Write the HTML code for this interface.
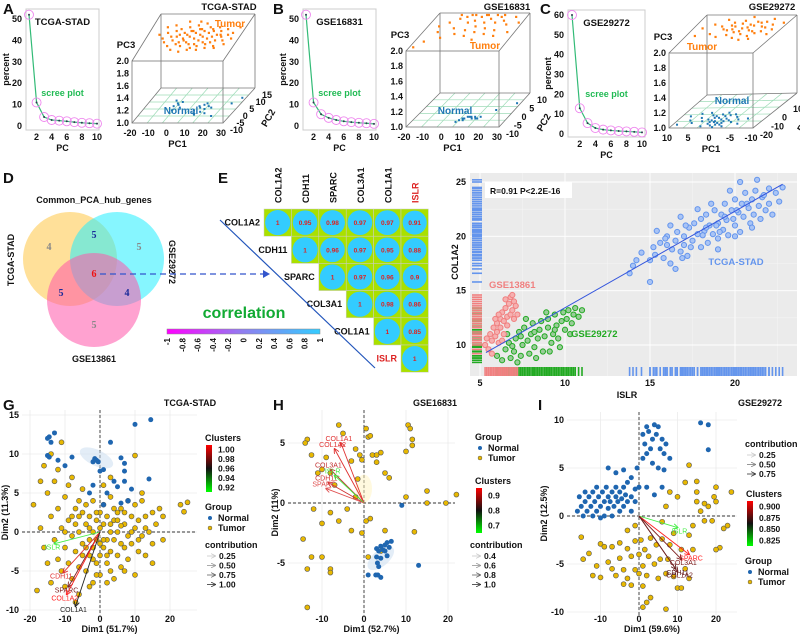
<!DOCTYPE html>
<html><head><meta charset="utf-8"><style>
html,body{margin:0;padding:0;background:#fff}
svg{display:block;font-family:"Liberation Sans",Arial,sans-serif;font-weight:bold}
</style></head><body>
<svg id="fig" width="800" height="638" viewBox="0 0 800 638" xmlns="http://www.w3.org/2000/svg">
<defs>
<linearGradient id="corrGrad" x1="0" x2="1" y1="0" y2="0"><stop offset="0" stop-color="#ff00ff"/><stop offset="0.5" stop-color="#8f7ff0"/><stop offset="1" stop-color="#33ccff"/></linearGradient>
<linearGradient id="clGrad" x1="0" x2="0" y1="0" y2="1"><stop offset="0" stop-color="#ff0000"/><stop offset="0.5" stop-color="#111"/><stop offset="1" stop-color="#00ff00"/></linearGradient>
<marker id="ah" markerWidth="6" markerHeight="6" refX="5" refY="3" orient="auto"><path d="M0,0 L6,3 L0,6" fill="none" stroke="context-stroke" stroke-width="1"/></marker>
</defs>
</svg>
<script>
// ---------------- DATA ----------------
const screeA=[52,11,4.2,2.8,2.5,2.2,1.8,1.5,1.3,1.1];
const screeB=[52,11,5.5,3.8,2.8,2.2,1.8,1.5,1.3,1.0];
const screeC=[60,13,5.5,3,2.2,1.8,1.5,1.3,1.1,0.8];
const pcaTumorA="-12,8 -10,5 -8,9 -7,3 -6,6 -5,1 -4,7 -3,4 -2,-1 -1,5 0,2 0,8 1,-2 1,4 2,6 3,0 3,3 4,9 5,-1 5,5 6,2 7,7 7,-3 8,4 9,1 9,6 10,-2 10,3 11,8 12,0 12,5 13,2 14,-1 14,6 15,3 16,0 16,8 17,4 18,1 18,6 19,-2 20,3 21,7 22,1 23,4 24,-1 25,5 26,2 -9,0 -6,-2 -3,-4 2,-5 6,-4 11,-4 15,-3 20,-3 -14,4 27,8 4,11 -2,11 8,10 -11,2 -4,3 1,1 6,7 13,7 19,4 -1,0 3,6 8,-1";
const pcaNormalA="-5,2 -4,4 -3,3 -2,5 -6,6 -1,1 8,-1 9,2 10,1 11,3 12,-2 13,0 14,2 10,-4 15,-3 9,-3 12,4 16,1 25,4 28,8 20,-5 -4,-1";
const pcaTumorB="-15,-5 -12,0 -10,5 -8,-3 -6,7 -5,2 -3,8 -2,-1 0,5 1,9 2,1 3,6 4,-2 5,8 6,3 7,9 8,0 9,5 10,-4 11,7 12,2 13,9 14,-1 15,5 16,8 18,1 19,6 20,-2 22,4 24,8 26,0 28,5 -18,-8 -14,3 -7,9 -1,9 8,9 17,9";
const pcaNormalB="5,-6 6,-5 7,-5 8,-4 9,-4 10,-4 11,-5 12,-4 13,-5 14,-5 7,-6 4,-7 15,-4 20,0 28,4";
const pcaTumorC="6,10 4,15 3,5 2,12 1,8 0,2 0,14 -1,6 -2,10 -2,0 -3,4 -4,12 -4,-2 -5,8 -6,3 -6,16 -7,10 -8,5 -1,-4 1,-1 -3,-6 -5,-5 2,4 -1,18 3,-3 5,0 8,-2 -9,12 -2,7 -3,9 0,11 1,5 -4,3 -6,7 -5,13 4,8 8,6 -8,0 -1,3 -3,13 2,9 -5,1";
const pcaNormalC="3,-10 2,-8 1,-12 0,-6 -1,-9 -2,-11 -3,-7 0,-14 1,-4 2,-15 -1,-16 3,-5 4,-12 5,-8 6,-14 -2,-4 -4,-10 0,-10 1,-8 -1,-12 2,-11 0,-2 4,-2 6,-3 8,-6 -3,-13 -1,-5 2,-6 -5,-15 1,-17 3,-18 -2,-18 0,-19 -6,-9 7,-11 9,-16 1,-13 -1,-14 2,-13 0,-16";
const vennSets=["TCGA-STAD","GSE29272","GSE13861"];
const vennCounts=[4,5,5,6,5,4,5]; // A only, A&B, B only, all, A&C, B&C, C only
const genes=["COL1A2","CDH11","SPARC","COL3A1","COL1A1","ISLR"];
const corrRows=[[1,0.95,0.98,0.97,0.97,0.91],[1,0.96,0.97,0.95,0.88],[1,0.97,0.96,0.9],[1,0.98,0.86],[1,0.85],[1]];
const corrTicks=["-1","-0.8","-0.6","-0.4","-0.2","0","0.2","0.4","0.6","0.8","1"];
const fBlue="14,17.3 14.2,17.8 14.5,18.5 15,17.8 15.2,19 15.3,18.3 15.4,20.5 15.6,19.4 15.8,18 16,19.2 16,20 16.2,17.5 16.3,18.8 16.5,19.6 16.6,20.4 16.8,18.6 16.8,21.8 17,19.2 17,20 17.2,18.2 17.3,20.8 17.5,19.6 17.6,21.2 17.8,20.2 18,19 18,21.6 18.2,20.5 18.3,22 18.4,19.4 18.5,21 18.7,20.2 18.8,22.4 19,21.2 19,19.8 19.2,22 19.3,20.6 19.4,23 19.5,21.5 19.6,20.1 19.8,22.4 20,21 20,23.4 20.2,22.2 20.3,20.4 20.4,23 20.5,21.8 20.6,24 20.8,22.6 20.9,21.2 21,23.4 21.1,22 21.2,24.2 21.4,22.8 21.5,21.6 21.6,23.6 21.8,22.4 22,24.4 22,23 22.2,22 22.4,24 22.6,23.2 22.8,24.5 15,15.8 16.5,17 19,18.8 20,20 21,20.8 17.8,22.5 18.6,23 19.7,24.2 20.3,25 21.3,25.2 16.9,18 17.4,19 18.1,20.1 18.9,21 19.4,21.8 20.1,22.4 13.8,16.6 17.1,21 18.3,20.8 19.1,20.4 19.9,21.6 20.7,23 21.7,23.8 16.2,21 15.9,19.8";
const fRed="5.3,10 5.4,10.6 5.5,9.6 5.6,11 5.7,10.4 5.8,11.6 5.9,10.8 6,12 6,11.2 6.1,10.2 6.2,12.4 6.2,11.6 6.3,13 6.4,12.2 6.4,11 6.5,13.4 6.6,12.6 6.6,11.8 6.7,13.8 6.8,12.8 6.8,14.4 6.9,13.2 7,12.4 7,14 7.1,13.6 7.2,12.8 5.7,9.2 6.3,10.4 6.5,14.2 6.9,14.6 6.1,12.8 5.9,12.4";
const fGreen="6,9 6.3,8.6 6.5,9.6 6.7,10.2 6.8,8.8 7,9.4 7.1,10.6 7.3,11.2 7.4,9 7.5,10 7.6,11.6 7.8,10.4 7.9,9.2 8,11 8.1,12 8.2,9.8 8.4,10.6 8.5,11.4 8.6,12.2 8.7,9.4 8.8,10.8 9,11.6 9,12.4 9.2,10.2 9.3,11 9.4,12.8 9.5,11.8 9.6,10.6 9.8,12.2 9.9,13 10,11.4 10.1,12.4 10.2,13.2 10.4,12 10.5,12.8 10.6,13.4 10.8,12.6 11,13.2 7.2,8.4 8.3,8.8 9.1,9.4 6.6,11 7.7,12.4 8.9,13 10.3,11 9.7,9.8 7.4,10.8 8.2,11.2 9.4,11.4 6.9,9.9";
const gTumor="-19,3.5 -17,0.5 -16,-2 -15,5 -15,-4 -14,2 -14,-6.5 -13,6.5 -13,-1 -12,3 -12,-3.5 -11,0.5 -11,-5 -10,4.5 -10,-2 -9,1.5 -9,-4 -9,6 -8,-0.5 -8,-6 -7,3 -7,-2.5 -7,1 -6,-4.5 -6,4 -6,0 -5,-1.5 -5,2.5 -5,-3 -4,1 -4,-5 -4,3.5 -3,-1 -3,-3 -3,2 -2,0 -2,-2 -2,4 -1,-4 -1,1.5 -1,-1 0,-3 0,2.5 0,0.5 0,-5.5 1,-2 1,1 1,3.5 2,-1 2,-4 2,2 3,0 3,-2.5 3,4.5 4,1.5 4,-1 4,-6 5,2.5 5,-3 5,0 6,-1.5 6,3 6,-4.5 7,1 7,-2 8,4 8,-0.5 8,-3.5 9,2 9,-1.5 10,0.5 10,-5.5 10,3.5 11,-2.5 11,1.5 12,-0.5 12,4 13,2 13,-3 14,0 15,2.5 15,-1.5 16,1 17,3 18,-1 18,2 23,3.5 25,3.8 24,2.6 -18,-7.5 -10,-7 -6,-8 -3,-7 2,-6.5 7,-5 -16,8.5 -14,10 -12,8 -11,11.5 -17,6.5 -8,7 10,9.8 12,5 15,-4 -2,-6.5 -7,-9 1,6 3,7 -5,5.5 -3,0.5 -1,2.5 1,-1 3,1 5,1.5 -4,-2 2,-3 6,0.8 -6,2 4,3 -2,-3.5 0,-1.5 7,2.5 9,0 -8,2 -10,0 11,-1 13,0.5 -1,-5.5 3,-5";
const gNormal="-15,12 -14.5,12.2 -14,11.5 -13,12.7 -15,9.8 -14.5,9.6 -12,9.2 -10,8.5 -8,9.6 -2,9 -1.5,9.4 -1,9.2 -0.5,9 1,8 0,7.8 6,9.5 7,8.8 7,7.8 10,13.8 14.5,14.4 3,11.5 -2,6 2,5 4,6.5 7,6.5 9,5.5 8,4 -3,5 1,3.5 14,6.8 6,3.7 5,5.8";
const gArrows=[["ISLR",-13,-1.5,"#44ee44"],["CDH11",-10.5,-5.2,"#e03030"],["SPARC",-9,-7,"#802020"],["COL1A2",-9.5,-8,"#ff2020"],["COL1A1",-7,-9.5,"#222"]];
const hTumor="-13.5,5.3 -14,5 -12.5,4 -11,2.5 -10,2.8 -9,3.8 -8,2.5 -7,1.5 -6,6.5 -5,5.8 -3,3.5 -2,4.5 -1,4 -0.5,3.6 0.5,6.2 1,5.5 1.5,5.6 2,4 3,4 3,3.4 4,4.2 5,2.5 6,2.1 -12,-0.5 -10,-1.7 -8,-0.8 -6,-1.5 -3,-2.3 -4,-0.5 0.5,-1.5 1.5,-1.3 1,-4.5 4,-4 5,-2.3 -14.5,-3 -12.5,-4.5 -13.5,-5.5 -10,-4.5 -8,-5.5 -8,-5.8 -13.5,-8.7 10.5,6.5 11,6.2 11.5,5.3 11.5,4.8 10,4.3 10,0.5 12,-2.4 15,1 15,0 19.5,0 22,0.7 -0.5,-2.5 -1.5,2 -2,0.5";
const hNormal="3,-3.8 3.5,-4 4,-3.6 4.5,-3.9 5,-3.5 5.5,-3.3 6,-3.7 3,-4.5 3.2,-5 3.5,-5.3 4,-4.6 2.8,-6 3.3,-6 1,-6 4,-6.2 5.5,-4.4 6.5,-3.2 5,-4 9,-0.2 13,-5.2";
const hArrows=[["COL1A1",-5.5,5,"#e03030"],["COL1A2",-7,4.5,"#e03030"],["COL3A1",-8,2.8,"#c03030"],["CDH11",-8.5,1.7,"#d03030"],["ISLR",-7,2.3,"#44ee44"],["SPARC",-9,1.2,"#e05050"]];
const iNormal="-16,0.5 -15.5,2 -15,1 -14.5,0 -14,2.5 -14,1.5 -13.5,0.5 -13,2 -12.5,1 -12,0 -12,2.5 -11.5,1.5 -11,3 -11,0.5 -10.5,2 -10,1 -10,-0.2 -9.5,2.5 -9,1.5 -9,0 -8.5,3 -8,2 -8,0.8 -7.5,1.5 -7,2.5 -7,0 -6.5,1 -6,2 -6,3 -5.5,1.5 -5,2.5 -5,0.5 -4.5,1.8 -4,3 -4,1 -3.5,2.2 -3,1.5 -3,3.5 -2,2 -2,0.5 -1,1.5 -8,5 -6,4.5 -4,4.8 -2,4 -0.5,5 0,3 1,6 1.5,7.5 2,9.3 2.5,8.8 3,7 3.5,8 4,9.5 4.5,8.5 5,9.3 5.5,7 6,8 6.5,6.5 7,7.5 8,6 1,8.5 2,6.5 3.5,5.5 5,5 6.5,4.8 2,3 4,2.2 6,3 16,9.7 18,9.5 18,6.9 -1,2.8";
const iTumor="-15,-2.2 -14.5,-4.5 -13,-3.9 -12,-6.2 -11,-5.2 -10,-6.4 -10,-2.9 -9,-3.2 -8,-4.8 -7,-5.5 -7,-3.2 -6,-6.2 -5,-4.4 -5,-2.8 -4,-7.1 -4,-5.6 -3,-3.4 -3,-6.5 -2,-4.2 -2,-7.2 -1,-5.6 -1,-2.6 0,-4 0,-6 0.5,-2.5 1,-7.3 1,-5.2 1.5,-3.5 2,-6.2 2.5,-4.2 3,-2.3 3,-8.5 4,-5 4.5,-3 5,-6.5 5.5,-4.5 6,-2.4 7,-9.7 7,-6 7.5,-4.5 8,-3 9,-6.3 9,-1.8 10,-7.5 11,-3.5 11,-7.5 12,-5.5 13,-2 13,-6.5 14,-3.5 14,-1 15,1.5 15,2.5 16,0.5 17,-0.5 18,1 19,-0.5 20,1.5 20,3 21,-3.3 22,-1.3 23,-1 24,2.5 12,3.5 13,5.3 15,3.6 20,-3.5 1,-9.5 2,-9 -1,-1 6,-0.6 7,1 10,2 8,2.5 -3,-1.5 17,1.3 19.5,2";
const iArrows=[["ISLR",10,-1.2,"#44ee44"],["SPARC",13,-4,"#ff2020"],["COL3A1",11,-4.5,"#802020"],["CDH11",9.5,-5.5,"#602020"],["COL1A2",10,-5.8,"#702020"]];
const gClusterTicks=["1.00","0.98","0.96","0.94","0.92"];
const hClusterTicks=["0.9","0.8","0.7"];
const iClusterTicks=["0.900","0.875","0.850","0.825"];
const gContrib=["0.25","0.50","0.75","1.00"];
const hContrib=["0.4","0.6","0.8","1.0"];
const iContrib=["0.25","0.50","0.75"];

// ---------------- HELPERS ----------------
const NS="http://www.w3.org/2000/svg";
const svg=document.getElementById('fig');
function pts(s){return s.trim().split(/\s+/).map(p=>p.split(',').map(Number));}
function E(tag,attrs,name,parent){
  const el=document.createElementNS(NS,tag);
  for(const k in attrs) el.setAttribute(k,attrs[k]);
  
  
  (parent||svg).appendChild(el);return el;
}
function T(x,y,s,name,o){
  o=o||{};
  const a={x:x,y:y,'font-size':o.fs||9,fill:o.fill||'#111','text-anchor':o.anchor||'middle'};
  if(o.rot!==undefined) a.transform='rotate('+o.rot+' '+x+' '+y+')';
  if(o.family) a['font-family']=o.family;
  if(o.weight) a['font-weight']=o.weight;
  const el=E('text',a,name);el.textContent=s;return el;
}
function lin(d0,d1,r0,r1){return v=>r0+(v-d0)*(r1-r0)/(d1-d0);}
function L(x1,y1,x2,y2,st,w,name,extra){const a={x1:x1,y1:y1,x2:x2,y2:y2,stroke:st,'stroke-width':w||1};Object.assign(a,extra||{});return E('line',a,name);}

// panel letters
[["A",3,14],["B",273,14],["C",540,14],["D",3,183],["E",218,183],["F",472,183],["G",3,410],["H",273,410],["I",538,410]].forEach(p=>T(p[1],p[2],p[0],'panel-label-'+p[0].toLowerCase(),{fs:15,anchor:'start'}));

// ---------------- SCREE ----------------
function scree(data,box,xr,yr,yTicks,title,key){
  const x=lin(1,10,xr[0],xr[1]),y=lin(0,yTicks[yTicks.length-1],yr[0],yr[1]);
  E('rect',{x:box[0],y:box[1],width:box[2],height:box[3],fill:'none',stroke:'#ccc'},key+'-frame');
  yTicks.forEach(t=>T(box[0]-4,y(t)+3,String(t),key+'-ytick',{anchor:'end'}));
  [2,4,6,8,10].forEach(t=>T(x(t),box[1]+box[3]+10,String(t),key+'-xtick'));
  T((box[0]+box[0]+box[2])/2,box[1]+box[3]+21,'PC',key+'-x-title');
  T(box[0]-17,(box[1]+box[1]+box[3])/2,'percent',key+'-y-title',{rot:-90});
  T(box[0]+box[2]/2,box[1]+16,title,key+'-title',{fs:9.5});
  T(box[0]+box[2]/2,box[1]+87,'scree plot',key+'-annotation',{fill:'#22bb55'});
  E('polyline',{points:data.map((v,i)=>x(i+1)+','+y(v)).join(' '),fill:'none',stroke:'#33bb77','stroke-width':1.2},key+'-line');
  data.forEach((v,i)=>{
    E('circle',{cx:x(i+1),cy:y(v),r:4.5,fill:'none',stroke:'#ee88ee','stroke-width':0.9},key+'-marker');
    E('circle',{cx:x(i+1),cy:y(v),r:1,fill:'#335'},key+'-point');
  });
}
scree(screeA,[26,9,73,121],[29,97],[126,19],[0,10,20,30,40,50],'TCGA-STAD','scree-a');
scree(screeB,[303,9,73,121],[306,374],[126,19],[0,10,20,30,40,50],'GSE16831','scree-b');
scree(screeC,[568,10,77,127],[572,642],[134,15],[0,10,20,30,40,50,60],'GSE29272','scree-c');

// ---------------- 3D PCA ----------------
function lerp(a,b,t){return [a[0]+(b[0]-a[0])*t,a[1]+(b[1]-a[1])*t];}
function face(c0,c1,c2,c3,u,v){return lerp(lerp(c0,c1,u),lerp(c2,c3,u),v);}
function pca3d(k,c,r1,r2,tumor,normal,o){
  const [FTL,FTR,BTL,BTR,FBL,FBR,BBL,BBR]=c;
  const gs='#9fdcb8';
  for(let i=1;i<5;i++){const a=lerp(FBL,BBL,i/5),b=lerp(FBR,BBR,i/5);L(a[0],a[1],b[0],b[1],gs,0.7,k+'-grid');}
  for(let i=1;i<6;i++){const a=lerp(FBL,FBR,i/6),b=lerp(BBL,BBR,i/6);L(a[0],a[1],b[0],b[1],gs,0.7,k+'-grid');}
  const st='#777';
  [[BTL,BBL],[BBL,BBR],[FTL,BTL],[BTL,BTR],[FTR,BTR],[BTR,BBR],[FBL,BBL],[FBR,BBR]].forEach(e=>L(e[0][0],e[0][1],e[1][0],e[1][1],st,0.8,k+'-edge'));
  E('rect',{x:FTL[0],y:FTL[1],width:FTR[0]-FTL[0],height:FBL[1]-FTL[1],fill:'none',stroke:st,'stroke-width':0.8},k+'-front-face');
  const u=p=>(p-r1[0])/(r1[1]-r1[0]),v=p=>(p-r2[0])/(r2[1]-r2[0]);
  pts(normal).forEach(p=>{const q=face(FBL,FBR,BBL,BBR,u(p[0]),v(p[1]));E('rect',{x:q[0]-1,y:q[1]-1,width:2,height:2,fill:'#1f77b4'},k+'-normal-point');});
  pts(tumor).forEach(p=>{const q=face(FTL,FTR,BTL,BTR,u(p[0]),v(p[1]));E('rect',{x:q[0]-1,y:q[1]-1,width:2.2,height:2.2,fill:'#ff7f0e'},k+'-tumor-point');});
  ['2.0','1.8','1.6','1.4','1.2','1.0'].forEach((t,i)=>T(FTL[0]-3,FTL[1]+(FBL[1]-FTL[1])*i/5+3,t,k+'-pc3-tick',{anchor:'end'}));
  T(FTL[0]-6,FTL[1]-13,'PC3',k+'-pc3-title',{fs:9.5,anchor:'middle'});
  o.pc1.forEach((t,i)=>{const q=lerp(FBL,FBR,i/(o.pc1.length-1));T(q[0]-2,FBL[1]+13,t,k+'-pc1-tick');});
  T((FBL[0]+FBR[0])/2,FBL[1]+24,'PC1',k+'-pc1-title',{fs:9.5});
  o.pc2.forEach((t,i)=>{const q=lerp(FBR,BBR,i/(o.pc2.length-1));T(q[0]+7,q[1]+10,t,k+'-pc2-tick',{anchor:'start'});});
  const m=lerp(FBR,BBR,0.5);T(m[0]+32,m[1]+14,'PC2',k+'-pc2-title',{fs:9.5,rot:-60});
  T(o.title[0],o.title[1],o.title[2],k+'-title',{fs:9.5});
  T(o.tl[0],o.tl[1],'Tumor',k+'-tumor-label',{fill:'#ff7f0e',fs:10});
  T(o.nl[0],o.nl[1],'Normal',k+'-normal-label',{fill:'#1f77b4',fs:10});
}
pca3d('pca3d-a',[[132,61],[223,61],[161,14],[255,14],[132,123],[223,123],[161,88],[255,88]],[-20,30],[-10,15],pcaTumorA,pcaNormalA,
 {pc1:['-20','-10','0','10','20','30'],pc2:['-10','-5','0','5','10','15'],title:[229,10,'TCGA-STAD'],tl:[230,27],nl:[181,114]});
pca3d('pca3d-b',[[406,51],[499,51],[440,13],[530,13],[406,127],[499,127],[440,93],[530,93]],[-20,30],[-10,10],pcaTumorB,pcaNormalB,
 {pc1:['-20','-10','0','10','20','30'],pc2:['-10','-5','0','5','10'],title:[507,10,'GSE16831'],tl:[485,49],nl:[455,114]});
pca3d('pca3d-c',[[669,53],[753,53],[707,15],[797,15],[669,128],[753,128],[707,95],[797,93]],[10,-10],[-20,20],pcaTumorC,pcaNormalC,
 {pc1:['10','5','0','-5','-10'],pc2:['-20','-10','0','10','20'],title:[772,10,'GSE29272'],tl:[702,50],nl:[732,104]});

// ---------------- VENN ----------------
T(94,203,'Common_PCA_hub_genes','venn-title',{fs:9});
E('circle',{cx:70,cy:259,r:47,fill:'#ffcc55','fill-opacity':0.6},'venn-circle-tcga');
E('circle',{cx:117,cy:259,r:47,fill:'#22eeff','fill-opacity':0.55},'venn-circle-gse29272');
E('circle',{cx:94,cy:300,r:47,fill:'#ff55aa','fill-opacity':0.55},'venn-circle-gse13861');
const vpos=[[49,250],[94,238],[139,250],[94,277],[61,296],[127,296],[94,328]];
vennCounts.forEach((c,i)=>T(vpos[i][0],vpos[i][1],String(c),'venn-count',{fs:10,family:'"Liberation Serif",serif',fill:(i===3?'#ee1111':i===0||i===2||i===6?'#888':'#1a2a99')}));
T(14,260,vennSets[0],'venn-label-tcga',{rot:-90,fs:9});
T(169,262,vennSets[1],'venn-label-gse29272',{rot:90,fs:9});
T(94,362,vennSets[2],'venn-label-gse13861',{fs:9});
L(100,274,268,274,'#3355cc',1.3,'venn-arrow',{'stroke-dasharray':'6,4'});
E('path',{d:'M263,270 L270,274 L263,278',fill:'#3355cc'},'venn-arrowhead');

// ---------------- CORRELATION ----------------
const cx0=264,cy0=209,cw=27.4,ch=27.2;
genes.forEach((g,i)=>{T(cx0+cw*i+cw/2+4,203,g,'corr-col-label',{rot:-90,anchor:'start',fill:g==='ISLR'?'#dd2222':'#111'});});
corrRows.forEach((row,i)=>{
  row.forEach((v,j)=>{
    const c=i+j,x=cx0+cw*c,y=cy0+ch*i;
    E('rect',{x:x,y:y,width:cw,height:ch,fill:'#aae000',stroke:'#ccc','stroke-width':0.5},'corr-cell');
    E('circle',{cx:x+cw/2,cy:y+ch/2,r:12.6*Math.sqrt(Math.abs(v)),fill:'#33ccff'},'corr-circle');
    T(x+cw/2,y+ch/2+2.5,String(v),'corr-value',{fs:6.5,fill:'#dd2222'});
  });
  T(cx0+cw*i-4,cy0+ch*i+ch/2+3,genes[i],'corr-row-label',{anchor:'end',fill:genes[i]==='ISLR'?'#dd2222':'#111'});
});
L(220,220,375,368,'#2255bb',1.2,'corr-diagonal');
T(244,318,'correlation','corr-legend-title',{fs:16,fill:'#11aa33'});
E('rect',{x:167,y:329,width:153,height:5,fill:'url(#corrGrad)',stroke:'#888','stroke-width':0.5},'corr-colorbar');
corrTicks.forEach((t,i)=>T(167+153*i/10+3,338,t,'corr-colorbar-tick',{rot:-90,anchor:'end',fs:8}));

// ---------------- F scatter ----------------
const fx=lin(5,20,480,735),fy=lin(10,25,345,182);
E('rect',{x:470,y:173,width:327,height:203,fill:'#ebebeb'},'f-plot-bg');
[7.5,12.5,17.5,22.5].forEach(v=>L(fx(v),173,fx(v),376,'#f6f6f6',0.5,'f-grid-minor'));
[12.5,17.5,22.5].forEach(v=>L(470,fy(v),797,fy(v),'#f6f6f6',0.5,'f-grid-minor'));
[5,10,15,20].forEach(v=>{L(fx(v),173,fx(v),376,'#fff',0.9,'f-grid-major');T(fx(v),386,String(v),'f-xtick');});
[10,15,20,25].forEach(v=>{L(470,fy(v),797,fy(v),'#fff',0.9,'f-grid-major');T(466,fy(v)+3,String(v),'f-ytick',{anchor:'end'});});
T(627,398,'ISLR','f-x-title');T(458,262,'COL1A2','f-y-title',{rot:-90});
function fset(s,col,fill,name){
  pts(s).forEach(p=>{
    L(472,fy(p[1]),482,fy(p[1]),col,1.6,name+'-rug-y');
    L(fx(p[0]),367,fx(p[0]),376,col,1.6,name+'-rug-x');
  });
  pts(s).forEach(p=>E('circle',{cx:fx(p[0]),cy:fy(p[1]),r:2.6,fill:fill,stroke:col,'stroke-width':1},name+'-point'));
}
fset(fBlue,'#6495ed','#a9c4f5','f-tcga');
fset(fGreen,'#22aa22','#99cc99','f-gse29272');
fset(fRed,'#f08080','#f6b0b0','f-gse13861');
L(fx(5.35),fy(9.3),fx(22.8),fy(24.8),'#3355dd',1,'f-regression-line');
E('rect',{x:485,y:182,width:87,height:16,fill:'#fff'},'f-stat-box');
T(490,194,'R=0.91   P<2.2E-16','f-stat-text',{anchor:'start',fs:8.5});
T(736,265,'TCGA-STAD','f-label-tcga',{fill:'#6495ed',fs:9.5});
T(489,288,'GSE13861','f-label-gse13861',{fill:'#f08080',fs:9.5,anchor:'start'});
T(571,337,'GSE29272','f-label-gse29272',{fill:'#22aa22',fs:9.5,anchor:'start'});

// ---------------- BIPLOTS ----------------
function biplot(k,area,xs,ys,xt,yt,tumor,normal,arrows,o){
  const [x0,y0,x1,y1]=area;
  xt.forEach(v=>{L(xs(v),y0,xs(v),y1,'#ebebeb',0.8,k+'-grid');T(xs(v),622,String(v),k+'-xtick');});
  yt.forEach(v=>{L(x0,ys(v),x1,ys(v),'#ebebeb',0.8,k+'-grid');T(x0-3,ys(v)+3,String(v),k+'-ytick',{anchor:'end'});});
  L(xs(0),y0,xs(0),y1,'#333',0.9,k+'-zero-x',{'stroke-dasharray':'3,2'});
  L(x0,ys(0),x1,ys(0),'#333',0.9,k+'-zero-y',{'stroke-dasharray':'3,2'});
  (o.ell||[]).forEach(e=>E('ellipse',{cx:xs(e[0]),cy:ys(e[1]),rx:e[2],ry:e[3],transform:'rotate('+e[4]+' '+xs(e[0])+' '+ys(e[1])+')',fill:e[5],'fill-opacity':0.5},k+'-group-ellipse'));
  pts(tumor).forEach(p=>E('circle',{cx:xs(p[0]),cy:ys(p[1]),r:2.5,fill:'#e8b800',stroke:'#555','stroke-width':0.6},k+'-tumor-point'));
  pts(normal).forEach(p=>E('circle',{cx:xs(p[0]),cy:ys(p[1]),r:2.5,fill:'#1f66b0'},k+'-normal-point'));
  arrows.forEach(a=>{
    E('line',{x1:xs(0),y1:ys(0),x2:xs(a[1]),y2:ys(a[2]),stroke:a[3],'stroke-width':0.9,'marker-end':'url(#ah)'},k+'-arrow-'+a[0].toLowerCase());
    T(xs(a[1])+(a[1]<0?-2:2),ys(a[2])+(a[2]<0?6:-2),a[0],k+'-arrow-label',{fs:7,weight:'normal',fill:a[3],anchor:'middle'});
  });
  T((x0+x1)/2,632,o.xl,k+'-x-title');
  T(o.ylx,(y0+y1)/2,o.yl,k+'-y-title',{rot:-90});
  T(o.title[0],o.title[1],o.title[2],k+'-title',{fs:9});
}
function legendCl(k,x,y,ticks,h){
  T(x,y,'Clusters',k+'-clusters-title',{anchor:'start',fs:9});
  E('rect',{x:x+1,y:y+4,width:6,height:h,fill:'url(#clGrad)'},k+'-clusters-bar');
  ticks.forEach((t,i)=>T(x+13,y+4+h*(i+0.5)/ticks.length+3,t,k+'-clusters-tick',{anchor:'start',fs:8.5}));
}
function legendGrp(k,x,y){
  T(x,y,'Group',k+'-group-title',{anchor:'start',fs:9});
  E('circle',{cx:x+5,cy:y+8,r:2,fill:'#1f66b0'},k+'-legend-normal-key');T(x+13,y+11,'Normal',k+'-legend-normal',{anchor:'start',fs:9});
  E('circle',{cx:x+5,cy:y+18,r:2,fill:'#e8b800',stroke:'#555','stroke-width':0.5},k+'-legend-tumor-key');T(x+13,y+21,'Tumor',k+'-legend-tumor',{anchor:'start',fs:9});
}
function legendCon(k,x,y,ticks){
  T(x,y,'contribution',k+'-contribution-title',{anchor:'start',fs:9});
  ticks.forEach((t,i)=>{const g=Math.round(200-150*i/Math.max(1,ticks.length-1));
    E('line',{x1:x+2,y1:y+8+i*9.5,x2:x+10,y2:y+8+i*9.5,stroke:'rgb('+g+','+g+','+g+')','stroke-width':0.8,'marker-end':'url(#ah)'},k+'-contribution-key');
    T(x+14,y+11+i*9.5,t,k+'-contribution-tick',{anchor:'start',fs:8.5});});
}
const gx=lin(0,10,100,135),gy=lin(0,5,532,493);
biplot('g',[22,410,197,615],gx,gy,[-20,-10,0,10,20],[-10,-5,0,5,10,15],gTumor,gNormal,gArrows,
 {xl:'Dim1 (51.7%)',yl:'Dim2 (11.3%)',ylx:8,title:[190,406,'TCGA-STAD'],ell:[[-1,9.5,18,8,25,'#c8dcf0'],[-1,-0.5,4,3,0,'#fff3c0']]});
legendCl('g',205,441,gClusterTicks,47);legendGrp('g',205,510);legendCon('g',205,548,gContrib);
const hx=lin(0,10,364,406),hy=lin(0,5,503,443);
biplot('h',[288,410,455,615],hx,hy,[-10,0,10,20],[-5,0,5],hTumor,hNormal,hArrows,
 {xl:'Dim1 (52.7%)',yl:'Dim2 (11%)',ylx:278,title:[435,406,'GSE16831'],ell:[[4,-4.6,16,8,-40,'#c8dcf0'],[0,1.2,8,14,0,'#fff3c0']]});
legendGrp('h',475,440);legendCl('h',475,484,hClusterTicks,45);legendCon('h',470,548,hContrib);
const ix=lin(0,10,639,677.5),iy=lin(0,5,516,468);
biplot('i',[567,412,737,615],ix,iy,[-10,0,10,20],[-10,-5,0,5,10],iTumor,iNormal,iArrows,
 {xl:'Dim1 (59.6%)',yl:'Dim2 (12.5%)',ylx:547,title:[760,406,'GSE29272']});
legendCon('i',745,447,iContrib);legendCl('i',746,497,iClusterTicks,45);legendGrp('i',745,564);
</script>
</body></html>
